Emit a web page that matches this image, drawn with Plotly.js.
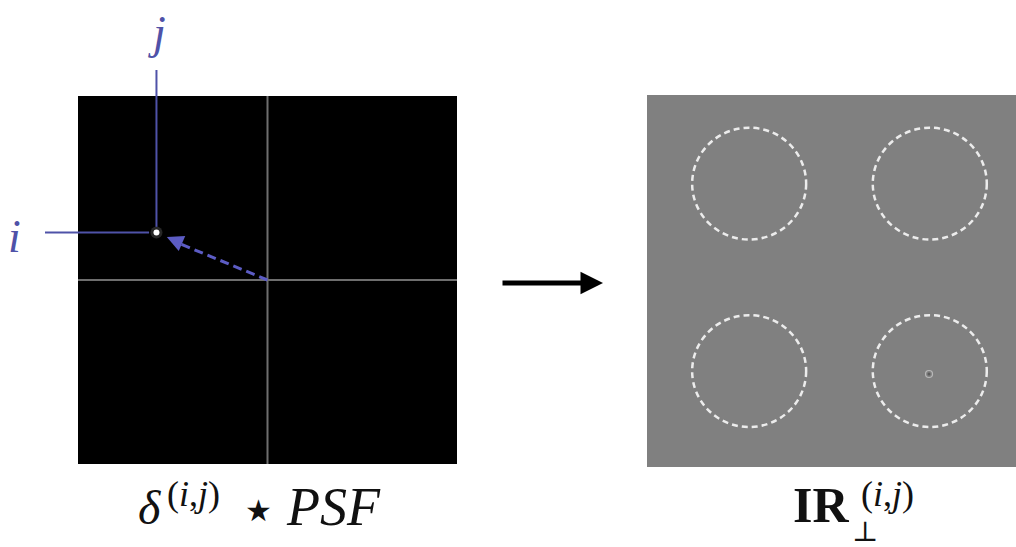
<!DOCTYPE html>
<html>
<head>
<meta charset="utf-8">
<script src="https://cdn.plot.ly/plotly-3.0.1.min.js"></script>
<style>html,body{margin:0;padding:0;background:#fff;}#chart{width:1016px;height:547px;}</style>
</head>
<body>
<div id="chart"></div>
<script>
// ---- data (image pixel coordinates, 256 x 256 images) ----
const imgSize = 256;
const psfCol = [53];          // j
const psfRow = [95];          // i
const circleX = [69, 191, 69, 191];
const circleY = [61, 61, 190, 190];
const circleR = [38.5, 38.5, 38.5, 38.5];
const irSpotX = [190.5];
const irSpotY = [192];
const leftTitle = 'δ';
const rightTitle = 'IR';

// ---- layout geometry (page pixels) ----
const W = 1016, H = 547;
const L = {x0: 78, x1: 457, y0: 96, y1: 464};
const R = {x0: 647, x1: 1026, y0: 95, y1: 467};
const ux = (p, b) => (p - b.x0) / (b.x1 - b.x0) * imgSize;
const uy = (p, b) => (p - b.y0) / (b.y1 - b.y0) * imgSize;
const px = p => p / W;
const py = p => 1 - p / H;

const serif = 'Liberation Serif';
const blue = '#4f52a8';

const traces = [
  {x: psfCol, y: psfRow, xaxis: 'x', yaxis: 'y', mode: 'markers', hoverinfo: 'skip',
   marker: {size: 12, color: 'rgba(255,255,255,0.15)', line: {width: 0}}},
  {x: psfCol, y: psfRow, xaxis: 'x', yaxis: 'y', mode: 'markers', hoverinfo: 'skip',
   marker: {size: 6, color: '#ffffff', line: {width: 0}}},
  {x: irSpotX, y: irSpotY, xaxis: 'x2', yaxis: 'y2', mode: 'markers', hoverinfo: 'skip',
   marker: {size: 7, color: 'rgba(0,0,0,0)', line: {width: 1.2, color: '#b8b8b8'}}},
  {x: irSpotX, y: irSpotY, xaxis: 'x2', yaxis: 'y2', mode: 'markers', hoverinfo: 'skip',
   marker: {size: 3, color: '#5a5a5a', line: {width: 0}}}
];

const shapes = [
  {type: 'rect', xref: 'x', yref: 'y', x0: 0, x1: imgSize, y0: 0, y1: imgSize,
   fillcolor: '#000', line: {width: 0}, layer: 'below'},
  {type: 'line', xref: 'x', yref: 'y', x0: imgSize / 2, x1: imgSize / 2, y0: 0, y1: imgSize,
   line: {color: '#6e6e6e', width: 2}, layer: 'below'},
  {type: 'line', xref: 'x', yref: 'y', x0: 0, x1: imgSize, y0: imgSize / 2, y1: imgSize / 2,
   line: {color: '#6e6e6e', width: 2}, layer: 'below'},
  {type: 'rect', xref: 'x2', yref: 'y2', x0: 0, x1: imgSize, y0: 0, y1: imgSize,
   fillcolor: '#808080', line: {width: 0}, layer: 'below'},
  // blue index lines
  {type: 'line', xref: 'x', yref: 'y', x0: psfCol[0], x1: psfCol[0], y0: psfRow[0] - 4, y1: uy(70, L),
   line: {color: blue, width: 2}},
  {type: 'line', xref: 'x', yref: 'y', x0: ux(45, L), x1: psfCol[0] - 5, y0: psfRow[0], y1: psfRow[0],
   line: {color: blue, width: 2}},
  // dashed pointer
  {type: 'line', xref: 'x', yref: 'y', x0: imgSize / 2, y0: imgSize / 2,
   x1: psfCol[0] + 14, y1: psfRow[0] + 7,
   line: {color: '#5c5cc4', width: 3, dash: '9px,5px'}}
];
circleX.forEach((cx, k) => {
  shapes.push({type: 'circle', xref: 'x2', yref: 'y2',
    x0: cx - circleR[k], x1: cx + circleR[k], y0: circleY[k] - circleR[k], y1: circleY[k] + circleR[k],
    line: {color: '#ececec', width: 2.5, dash: '6px,4px'}});
});

const dxv = imgSize / 2 - psfCol[0], dyv = imgSize / 2 - psfRow[0];
const txt = (x, y, text, size, family, color) => ({xref: 'paper', yref: 'paper', x: px(x), y: py(y),
  xanchor: 'center', yanchor: 'middle', text: text, showarrow: false,
  font: {family: family || serif, size: size, color: color || '#111'}});

const annotations = [
  // pointer arrow head
  {xref: 'x', yref: 'y', axref: 'x', ayref: 'y', x: psfCol[0] + 7, y: psfRow[0] + 3.1,
   ax: psfCol[0] + 7 + dxv * 0.1, ay: psfRow[0] + 3.1 + dyv * 0.1,
   showarrow: true, arrowhead: 2, arrowsize: 1.1, arrowwidth: 3, arrowcolor: '#5c5cc4', text: ''},
  // black transform arrow
  {xref: 'paper', yref: 'paper', axref: 'pixel', ayref: 'pixel', x: px(603), y: py(283),
   ax: -102, ay: 0, showarrow: true, arrowhead: 2, arrowsize: 0.9, arrowwidth: 5, arrowcolor: '#000', text: ''},
  // index labels
  txt(157, 32, '<i>j</i>', 46, serif, blue),
  txt(14, 236, '<i>i</i>', 46, serif, blue),
  // left caption: δ^(i,j) ⋆ PSF
  txt(149, 507, '<i>' + leftTitle + '</i>', 48),
  txt(193, 494, '(<i>i</i>,<i>j</i>)', 36),
  txt(258, 510, '★', 30, 'DejaVu Sans'),
  txt(333, 507, '<i>PSF</i>', 54),
  // right caption: IR_⊥^(i,j)
  txt(821, 505, '<b>' + rightTitle + '</b>', 50),
  txt(887, 494, '(<i>i</i>,<i>j</i>)', 36),
  txt(865, 531, '⊥', 28, 'DejaVu Serif')
];

const ax = (rng, extra) => Object.assign({range: rng, visible: false, fixedrange: true,
  showgrid: false, zeroline: false, domain: [0, 1]}, extra || {});

const layout = {
  width: W, height: H, margin: {l: 0, r: 0, t: 0, b: 0, pad: 0},
  paper_bgcolor: '#ffffff', plot_bgcolor: 'rgba(0,0,0,0)', showlegend: false,
  xaxis: ax([ux(0, L), ux(W, L)]),
  yaxis: ax([uy(H, L), uy(0, L)]),
  xaxis2: ax([ux(0, R), ux(W, R)], {overlaying: 'x', anchor: 'y2'}),
  yaxis2: ax([uy(H, R), uy(0, R)], {overlaying: 'y', anchor: 'x2'}),
  shapes: shapes, annotations: annotations
};

Plotly.newPlot('chart', traces, layout, {displayModeBar: false, staticPlot: true});
</script>
</body>
</html>
